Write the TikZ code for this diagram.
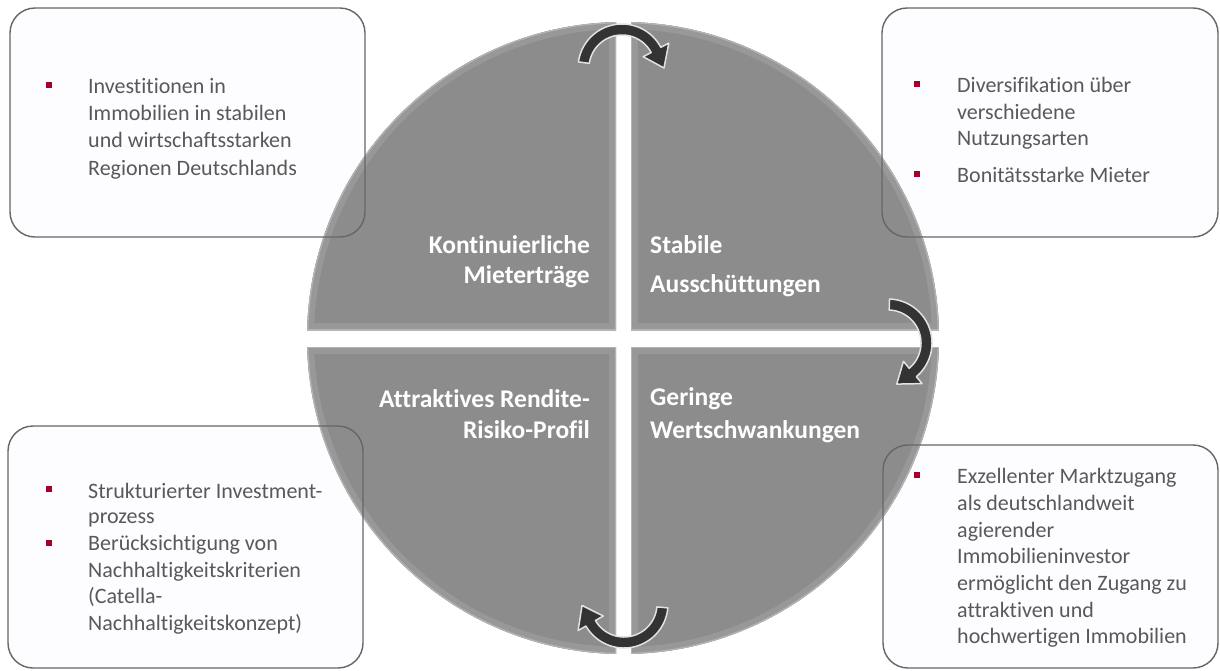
\documentclass[tikz,border=0pt]{standalone}
\usepackage{fontspec}
\setmainfont{Carlito}[Ligatures={NoCommon,NoContextual},RawFeature={-liga;-clig;-dlig}]
\definecolor{txtgray}{HTML}{595959}
\definecolor{bulletred}{HTML}{A50029}
\definecolor{quadgray}{HTML}{8C8C8C}
\definecolor{rimgray}{HTML}{989898}
\definecolor{hlgray}{HTML}{B4B4B4}
\definecolor{boxline}{HTML}{666666}
\definecolor{boxfill}{HTML}{FDFCFE}
\definecolor{arrowdark}{HTML}{333333}
\definecolor{arrowedge}{HTML}{E2E2E2}
\tikzset{
 txt/.style={anchor=base west, inner sep=0pt, font=\fontsize{22}{27}\selectfont, text=txtgray},
 lblL/.style={anchor=base east, inner sep=0pt, font=\fontsize{25.5}{30}\selectfont\bfseries, text=white},
 lblR/.style={anchor=base west, inner sep=0pt, font=\fontsize{25.5}{30}\selectfont\bfseries, text=white},
 bul/.style={fill=bulletred, minimum size=6pt, inner sep=0pt, draw=none},
 boxframe/.style={draw=boxline, line width=1.4pt, rounded corners=25pt},
 boxbg/.style={fill=boxfill, rounded corners=25pt},
 turn/.style={fill=arrowdark, draw=arrowedge, line width=1.5pt, line join=round},
}
\newcommand\turnarrow[4]{%
 \draw[turn] plot[domain=0:1,samples=40] ({#1+44*cos((#3)+((#4)-(#3))*\x)},{#2-44*sin((#3)+((#4)-(#3))*\x)})
  -- ({#1+53*cos(#4)},{#2-53*sin(#4)})
  -- ({#1+42*cos((#4)-28)},{#2-42*sin((#4)-28)})
  -- ({#1+24*cos(#4)},{#2-24*sin(#4)})
  -- plot[domain=0:1,samples=40] ({#1+33*cos((#4)+((#3)-(#4))*\x)},{#2-33*sin((#4)+((#3)-(#4))*\x)}) -- cycle;}
\newcommand\quadpiece[4]{%
 \begin{scope}
 \clip (#1,#2) rectangle (#3,#4);
 \clip (623,338) circle (316pt);
 \fill[quadgray] (#1,#2) rectangle (#3,#4);
 \draw[rimgray, line width=14pt] (623,338) circle (316pt);
 \draw[rimgray, line width=14pt] (#1,#2) rectangle (#3,#4);
 \draw[hlgray, line width=2.5pt] (623,338) circle (316pt);
 \draw[hlgray, line width=2.5pt] (#1,#2) rectangle (#3,#4);
 \end{scope}}
\begin{document}
\begin{tikzpicture}[x=1pt,y=-1pt]
\useasboundingbox (0,0) rectangle (1220,670);
\fill[white] (0,0) rectangle (1220,670);
% box backgrounds
\fill[boxbg] (10,8) rectangle (365,237);
\fill[boxbg] (882,8) rectangle (1218,237);
\fill[boxbg] (8,426) rectangle (363,668);
\fill[boxbg] (883,445) rectangle (1218,668);
% circle quadrants
\quadpiece{290}{10}{616}{330}
\quadpiece{631}{10}{950}{330}
\quadpiece{290}{347}{616}{665}
\quadpiece{631}{347}{950}{665}
% box frames
\draw[boxframe] (10,8) rectangle (365,237);
\draw[boxframe] (882,8) rectangle (1218,237);
\draw[boxframe] (8,426) rectangle (363,668);
\draw[boxframe] (883,445) rectangle (1218,668);
% top-left box
\node[bul] (b1) at (49,85) {};
\node[txt] (t1a) at (88,93) {Investitionen in};
\node[txt] (t1b) at (88,120) {Immobilien in stabilen};
\node[txt] (t1c) at (88,147) {und wirtschaftsstarken};
\node[txt] (t1d) at (88,175) {Regionen Deutschlands};
% top-right box
\node[bul] (b2) at (917,84) {};
\node[txt] (t2a) at (957,92) {Diversifikation über};
\node[txt] (t2b) at (957,119) {verschiedene};
\node[txt] (t2c) at (957,145) {Nutzungsarten};
\node[bul] (b3) at (917,174) {};
\node[txt] (t2d) at (957,182) {Bonitätsstarke Mieter};
% bottom-left box
\node[bul] (b4) at (49,489) {};
\node[txt] (t3a) at (88,498) {Strukturierter Investment-};
\node[txt] (t3b) at (88,523) {prozess};
\node[bul] (b5) at (49,543) {};
\node[txt] (t3c) at (88,550) {Berücksichtigung von};
\node[txt] (t3d) at (88,577) {Nachhaltigkeitskriterien};
\node[txt] (t3e) at (88,603) {(Catella-};
\node[txt] (t3f) at (88,630) {Nachhaltigkeitskonzept)};
% bottom-right box
\node[bul] (b6) at (917,475) {};
\node[txt] (t4a) at (957,483) {Exzellenter Marktzugang};
\node[txt] (t4b) at (957,510) {als deutschlandweit};
\node[txt] (t4c) at (957,537) {agierender};
\node[txt] (t4d) at (957,563) {Immobilieninvestor};
\node[txt] (t4e) at (957,590) {ermöglicht den Zugang zu};
\node[txt] (t4f) at (957,617) {attraktiven und};
\node[txt] (t4g) at (957,643) {hochwertigen Immobilien};
% circle labels
\node[lblL] (q1a) at (590,253) {Kontinuierliche};
\node[lblL] (q1b) at (590,283) {Mieterträge};
\node[lblR] (q2a) at (650,253) {Stabile};
\node[lblR] (q2b) at (650,292) {Ausschüttungen};
\node[lblL] (q3a) at (590,407) {Attraktives Rendite-};
\node[lblL] (q3b) at (590,438) {Risiko-Profil};
\node[lblR] (q4a) at (650,405) {Geringe};
\node[lblR] (q4b) at (650,438) {Wertschwankungen};
% turning arrows
\turnarrow{622}{68}{172}{28}
\turnarrow{888}{343}{88}{-50}
\turnarrow{624}{604}{-5}{-150}
\end{tikzpicture}
\end{document}
